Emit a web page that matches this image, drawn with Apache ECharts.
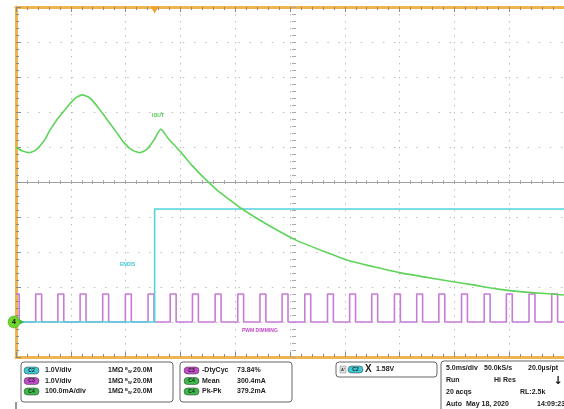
<!DOCTYPE html>
<html><head><meta charset="utf-8">
<script src="https://cdn.jsdelivr.net/npm/echarts/dist/echarts.min.js"></script>
<style>html,body{margin:0;padding:0;background:#fff}#c{width:564px;height:409px}</style>
</head><body><div id="c"></div>
<script>
// ---- data ----
// C4 IOUT (time in ms, current in mA)
const ioutT  = [0, 0.54, 1.17, 1.80, 2.61, 3.06, 3.78, 4.59, 5.31, 6.03, 6.74, 7.55, 8.27, 9.08, 9.89, 10.61, 11.33, 11.96, 12.59, 13.22, 13.85, 15.02, 16.10, 17.18, 18.35, 19.51, 20.77, 22.84, 25.54, 28.24, 30.49, 32.73, 34.98, 37.23, 39.48, 41.73, 43.97, 46.22, 48.92, 50];
const ioutMA = [500, 489, 484, 491, 520, 546, 580, 611, 637, 649, 640, 611, 580, 546, 511, 491, 484, 494, 520, 551, 526, 486, 446, 411, 377, 349, 320, 280, 234, 200, 174, 157, 141, 129, 117, 106, 94, 86, 80, 77];
// C2 ENDIS (time ms, volts)
const endisT = [0, 12.65, 12.65, 50];
const endisV = [0, 0, 3.23, 3.23];
// C3 PWM DIMMING: rising edge times (ms), first falling edge, high time, high level
const pwmRiseMs = [1.80, 3.82, 5.85, 7.91, 9.98, 12.05, 14.07, 16.10, 18.17, 20.23, 22.26, 24.28, 26.35, 28.42, 30.44, 32.46, 34.53, 36.56, 38.58, 40.65, 42.72, 44.74, 46.81, 48.88];
const pwmFirstFallMs = 0.29;
const pwmHighMs = 0.54;
const pwmHighV = 0.8;
const triggerMs = 12.65;
// readouts
const chanRows = [['C2', '1.0V/div'], ['C3', '1.0V/div'], ['C4', '100.0mA/div']];
const measRows = [['C3', '-DtyCyc', '73.84%'], ['C4', 'Mean', '300.4mA'], ['C4', 'Pk-Pk', '379.2mA']];
const trigText = '1.58V';
const acqRows = [
  ['5.0ms/div', '50.0kS/s', '20.0µs/pt'],
  ['Run', 'Hi Res', ''],
  ['20 acqs', 'RL:2.5k', ''],
  ['Auto', 'May 18, 2020', '14:09:23']
];

// ---- build ----
const C = {C2: '#3fc9d3', C3: '#c24bc9', C4: '#3db84a'};
const iout = ioutT.map((t, i) => [t, ioutMA[i]]);
const endis = endisT.map((t, i) => [t, endisV[i]]);
const pwm = [[0, pwmHighV], [pwmFirstFallMs, pwmHighV], [pwmFirstFallMs, 0]];
pwmRiseMs.forEach(r => { pwm.push([r, 0], [r, pwmHighV], [r + pwmHighMs, pwmHighV], [r + pwmHighMs, 0]); });
pwm.push([50, 0]);

const ORANGE = '#efb34f', TICK = '#8a8a8a', CTICK = '#a8a8a8', DOT = '#bdbdbd';
const FONT = 'bold 7px "Liberation Sans", Arial, sans-serif';

function txt(x, y, s, fill, font, align) {
  return {type: 'text', x: x, y: y, silent: true, z: 100,
    style: {text: s, fill: fill || '#222', font: font || FONT, align: align || 'left', verticalAlign: 'middle', textAlign: align || 'left', textVerticalAlign: 'middle'}};
}
function box(x, y, w, h) {
  return {type: 'rect', z: 90, shape: {x: x, y: y, width: w, height: h, r: 3}, style: {fill: '#fff', stroke: '#666', lineWidth: 1}};
}
function pill(x, y, w, ch) {
  return [
    {type: 'rect', z: 95, shape: {x: x, y: y - 3.5, width: w, height: 7, r: 3.5}, style: {fill: C[ch], stroke: '#333', lineWidth: 0.5}},
    txt(x + w / 2, y, ch, '#222', 'bold 5px "Liberation Sans", Arial, sans-serif', 'center')
  ];
}

const graphic = [];
// bottom panel
graphic.push({type: 'line', z: 90, shape: {x1: 16, y1: 402, x2: 16, y2: 409}, style: {stroke: '#333', lineWidth: 1}});
graphic.push(box(21, 362, 152, 40));
chanRows.forEach((r, i) => {
  const y = 370.5 + i * 10.5;
  graphic.push(...pill(24, y, 15, r[0]));
  graphic.push(txt(45, y, r[1]));
  graphic.push(txt(108, y, '1MΩ', '#222'));
  graphic.push(txt(125, y - 1.5, 'B', '#222', 'bold 4px "Liberation Sans", Arial, sans-serif'));
  graphic.push(txt(128, y + 1.5, 'W', '#222', 'bold 4px "Liberation Sans", Arial, sans-serif'));
  graphic.push(txt(133, y, '20.0M'));
});
graphic.push(box(180, 362, 112, 40));
measRows.forEach((r, i) => {
  const y = 370.5 + i * 10.5;
  graphic.push(...pill(184, y, 15, r[0]));
  graphic.push(txt(202, y, r[1]));
  graphic.push(txt(237, y, r[2]));
});
graphic.push(box(336, 362, 101, 15));
graphic.push({type: 'rect', z: 95, shape: {x: 340, y: 366, width: 6, height: 7}, style: {fill: '#ddd', stroke: '#888', lineWidth: 0.5}});
graphic.push(txt(343, 369.5, "A'", '#333', 'bold 4px "Liberation Sans", Arial, sans-serif', 'center'));
graphic.push(...pill(348, 369.5, 15, 'C2'));
graphic.push(txt(365, 369.5, 'X', '#222', 'bold 10px "Liberation Sans", Arial, sans-serif'));
graphic.push(txt(376, 369.5, trigText));
graphic.push(box(441, 361, 140, 52));
const colX = [[446, 484, 528], [446, 494, 0], [446, 520, 0], [446, 466, 537]];
acqRows.forEach((r, i) => {
  const y = 368.5 + i * 12;
  r.forEach((s, j) => { if (s) graphic.push(txt(colX[i][j], y, s)); });
});
graphic.push(txt(558, 381, '↓', '#111', 'bold 11px "DejaVu Sans", sans-serif', 'center'));
// trace labels
graphic.push(txt(152, 116, 'IOUT', '#4fc94f', 'bold 5px "Liberation Sans", Arial, sans-serif'));
graphic.push(txt(120, 265, 'ENDIS', '#3fc9d3', 'bold 5px "Liberation Sans", Arial, sans-serif'));
graphic.push(txt(242, 331, 'PWM DIMMING', '#c24bc9', 'bold 5px "Liberation Sans", Arial, sans-serif'));

const xBase = {type: 'value', min: 0, max: 50, interval: 5, axisLabel: {show: false}};
const yBase = {type: 'value', min: 0, max: 10, interval: 1, axisLabel: {show: false}};
const tickMinor = {show: true, splitNumber: 5, length: 3, lineStyle: {color: TICK, width: 1}};
const cMinor = {show: true, splitNumber: 5, length: 2, lineStyle: {color: CTICK, width: 1}};

const option = {
  animation: false,
  backgroundColor: '#fff',
  grid: {left: 16, top: 7, width: 556, height: 350, show: false},
  graphic: graphic,
  xAxis: [
    Object.assign({}, xBase, {position: 'bottom',
      axisLine: {show: true, onZero: false, lineStyle: {color: ORANGE, width: 3}},
      axisTick: {show: true, inside: true, length: 5, lineStyle: {color: TICK}},
      minorTick: Object.assign({}, tickMinor),
      splitLine: {show: true, lineStyle: {color: DOT, width: 1, type: [1.5, 5.5]}}}),
    Object.assign({}, xBase, {position: 'top',
      axisLine: {show: true, onZero: false, lineStyle: {color: ORANGE, width: 3}},
      axisTick: {show: true, inside: true, length: 5, lineStyle: {color: TICK}},
      minorTick: Object.assign({}, tickMinor), splitLine: {show: false}}),
    Object.assign({}, xBase, {position: 'top', offset: -175,
      axisLine: {show: true, onZero: false, lineStyle: {color: '#9d9d9d', width: 1}},
      axisTick: {show: true, inside: false, length: 2, lineStyle: {color: CTICK}},
      minorTick: Object.assign({}, cMinor), splitLine: {show: false}}),
    Object.assign({}, xBase, {position: 'bottom', offset: -175,
      axisLine: {show: false},
      axisTick: {show: true, inside: false, length: 2, lineStyle: {color: CTICK}},
      minorTick: Object.assign({}, cMinor), splitLine: {show: false}})
  ],
  yAxis: [
    {type: 'value', min: -100, max: 900, interval: 100, position: 'left', axisLabel: {show: false},
      axisLine: {show: true, onZero: false, lineStyle: {color: ORANGE, width: 3}},
      axisTick: {show: true, inside: true, length: 5, lineStyle: {color: TICK}},
      minorTick: Object.assign({}, tickMinor),
      splitLine: {show: true, lineStyle: {color: DOT, width: 1, type: [1.5, 9.62]}}},
    {type: 'value', min: -1, max: 9, interval: 1, position: 'right', show: false},
    Object.assign({}, yBase, {position: 'left', offset: -278,
      axisLine: {show: false},
      axisTick: {show: true, inside: false, length: 2, lineStyle: {color: CTICK}},
      minorTick: Object.assign({}, cMinor), splitLine: {show: false}}),
    Object.assign({}, yBase, {position: 'right', offset: -278,
      axisLine: {show: false},
      axisTick: {show: true, inside: false, length: 2, lineStyle: {color: CTICK}},
      minorTick: Object.assign({}, cMinor), splitLine: {show: false}})
  ],
  series: [
    {name: 'PWM DIMMING', type: 'line', xAxisIndex: 0, yAxisIndex: 1, data: pwm, showSymbol: false, silent: true,
      lineStyle: {color: '#c77bd6', width: 1.6}, z: 3},
    {name: 'ENDIS', type: 'line', xAxisIndex: 0, yAxisIndex: 1, data: endis, showSymbol: false, silent: true,
      lineStyle: {color: '#52d3dc', width: 1.6}, z: 4,
      markPoint: {silent: true, animation: false, data: [
        {coord: [triggerMs, 9], symbol: 'triangle', symbolRotate: 180, symbolSize: [8, 7], symbolOffset: [0, 3],
          itemStyle: {color: '#f0a22a'}, label: {show: false}}
      ]}},
    {name: 'IOUT', type: 'line', xAxisIndex: 0, yAxisIndex: 0, data: iout, showSymbol: false, silent: true, smooth: 0.2,
      lineStyle: {color: '#5fd35a', width: 1.6}, z: 5,
      markPoint: {silent: true, animation: false, data: [
        {coord: [0, 0], symbol: 'triangle', symbolRotate: -90, symbolSize: 5, symbolOffset: [6, 0],
          itemStyle: {color: '#3db84a'}, label: {show: false}},
        {coord: [0, 0], symbol: 'circle', symbolSize: 12, symbolOffset: [-2, 0],
          itemStyle: {color: '#6fd42c', borderColor: '#3a9a20', borderWidth: 0.5},
          label: {show: true, position: 'inside', formatter: '4', color: '#111', fontSize: 7, fontWeight: 'bold'}}
      ]}}
  ]
};
const chart = echarts.init(document.getElementById('c'), null, {renderer: 'canvas', width: 564, height: 409});
chart.setOption(option);
</script></body></html>
